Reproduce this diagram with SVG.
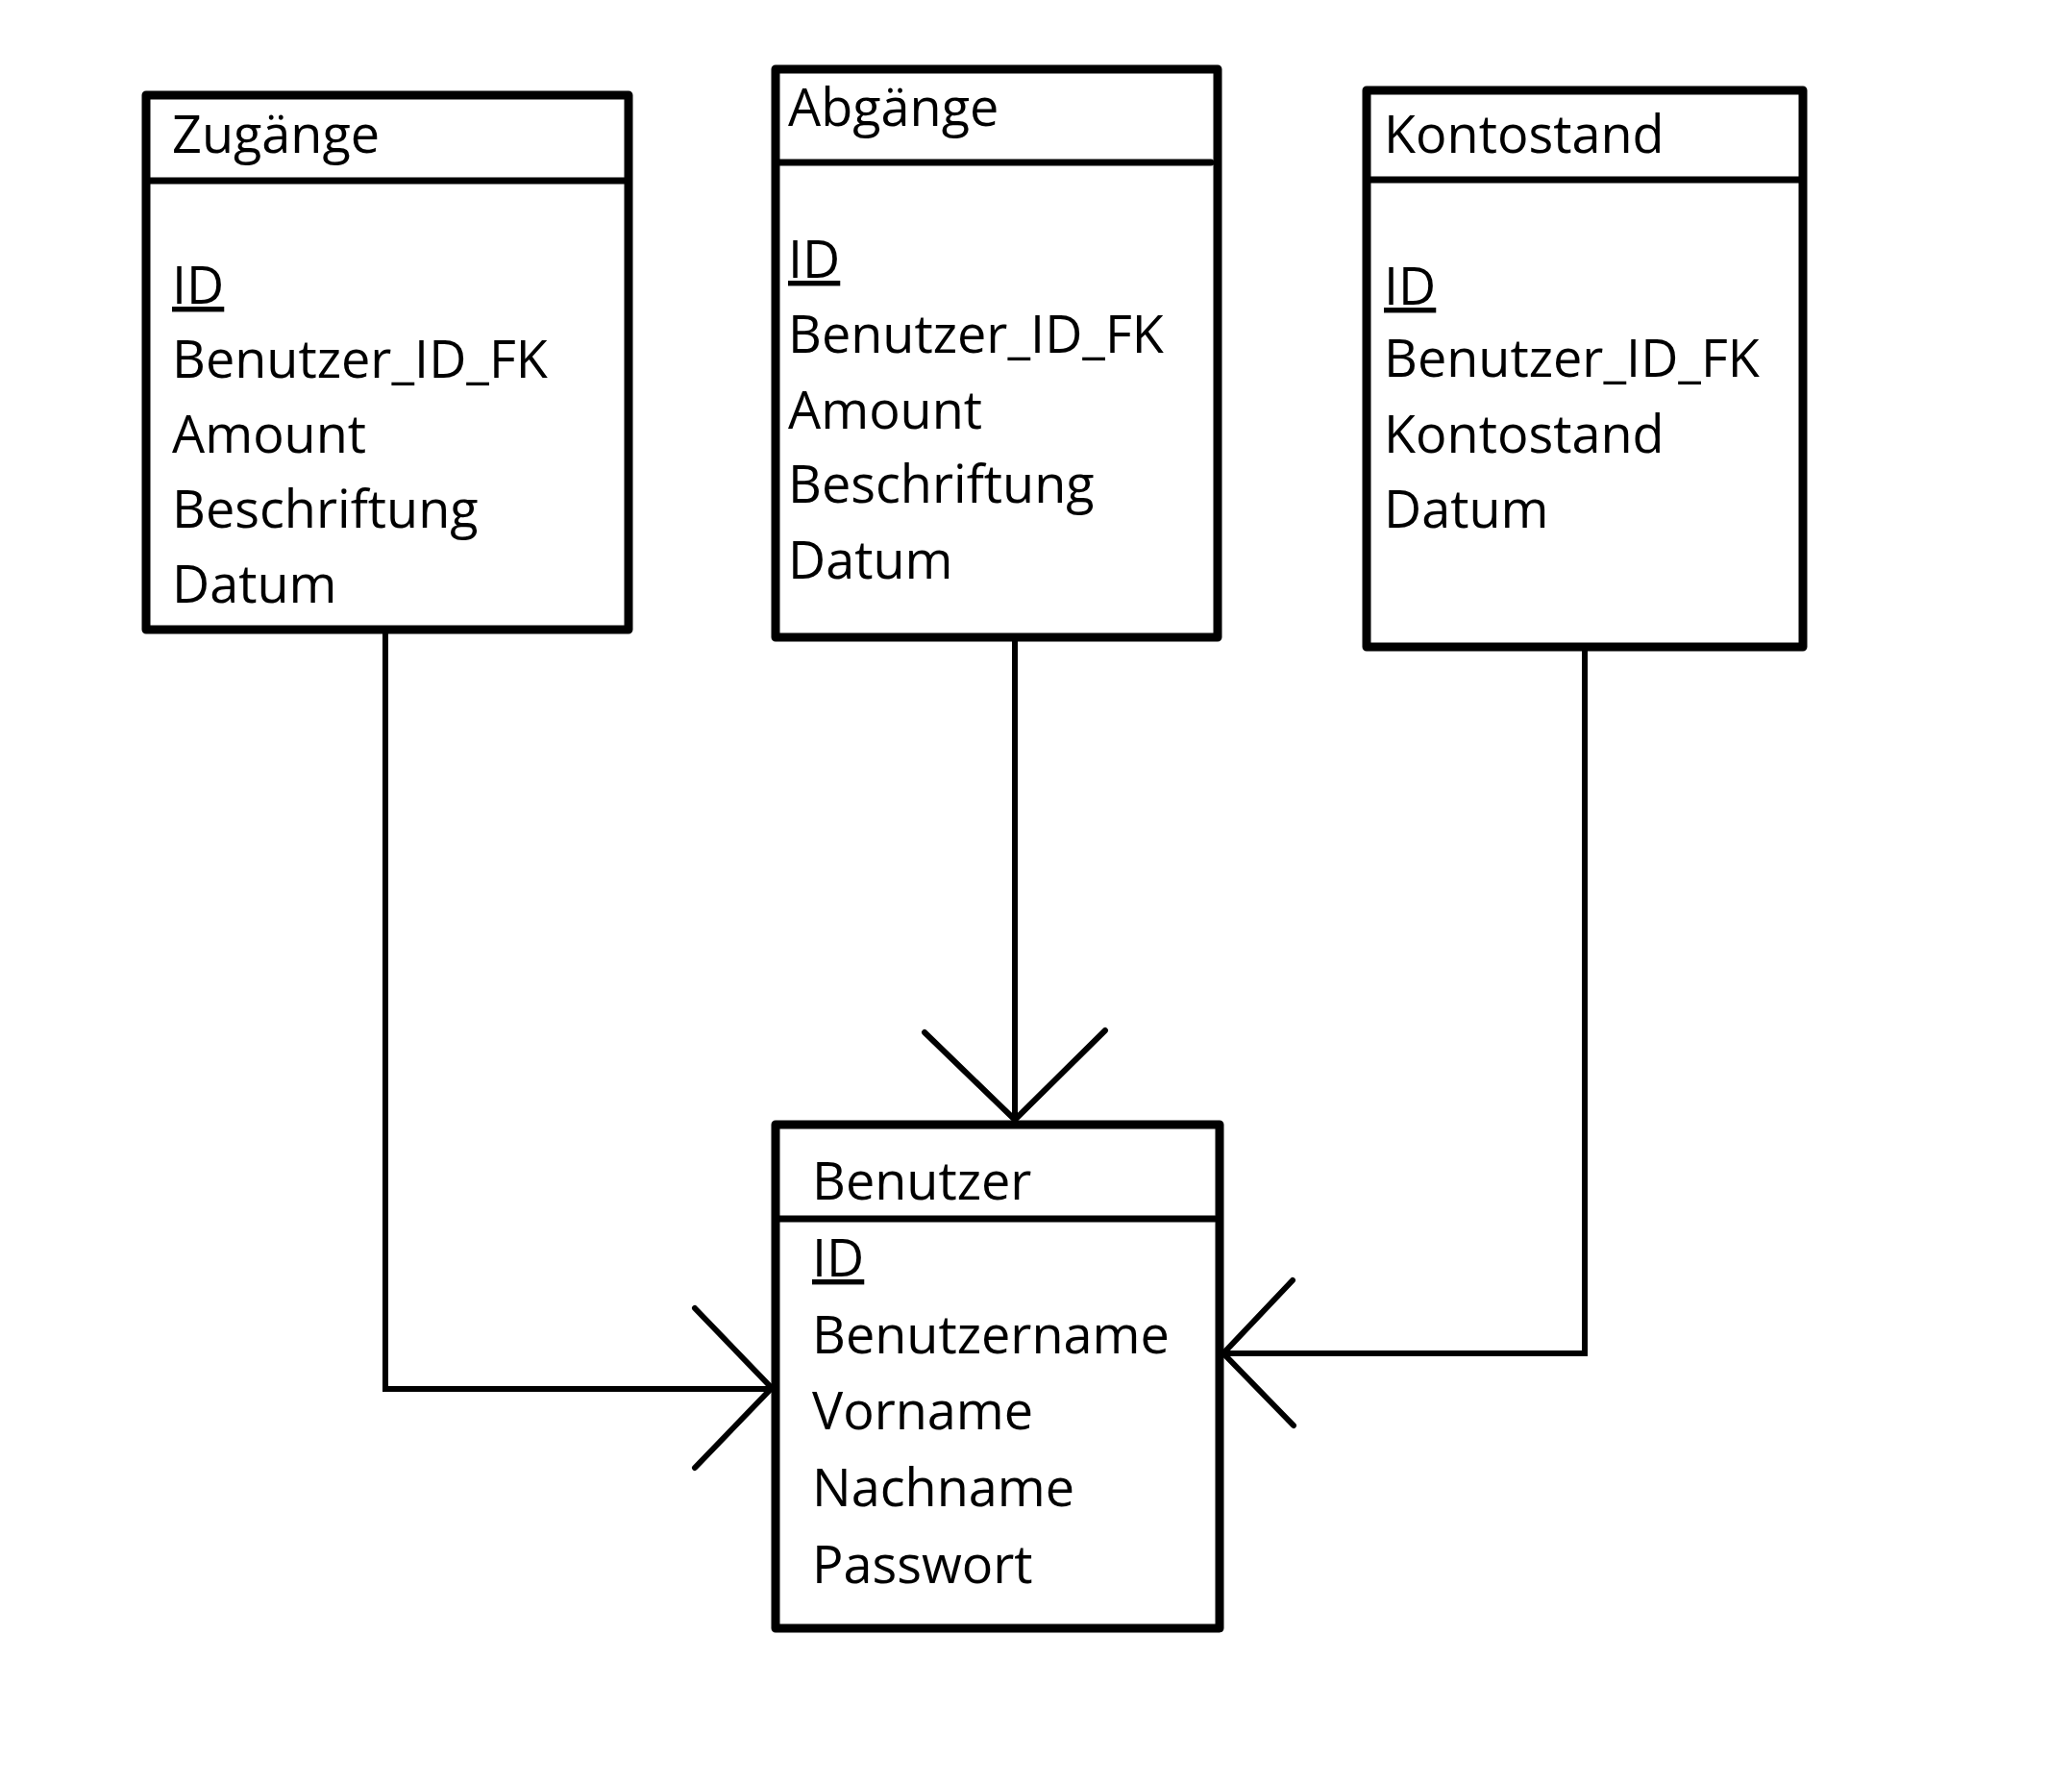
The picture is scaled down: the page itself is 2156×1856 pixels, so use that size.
<svg xmlns="http://www.w3.org/2000/svg" width="2156" height="1856" viewBox="0 0 2156 1856">
<style>
.box{fill:#fff;stroke:#000;stroke-width:9;stroke-linejoin:round}
.hdr{stroke:#000;stroke-width:7;stroke-linecap:round}
.con{fill:none;stroke:#000;stroke-width:6;stroke-linecap:round;stroke-linejoin:miter}
text{font-family:"Open Sans","Noto Sans","DejaVu Sans",sans-serif;font-size:54px;fill:#000}
.pk{text-decoration:underline}
</style>
<rect width="2156" height="1856" fill="#fff"/>
<g id="connectors">
<path class="con" d="M401,655 V1445 H803"/>
<path class="con" d="M723,1361 L803,1444 L723,1527"/>
<path class="con" d="M1056,663 V1166"/>
<path class="con" d="M962,1074 L1056,1165 L1150,1072"/>
<path class="con" d="M1649,673 V1408 H1273"/>
<path class="con" d="M1345,1332 L1273,1408 L1346,1483"/>
</g>
<g id="zugaenge">
<rect class="box" x="152" y="99" width="502" height="556"/>
<line class="hdr" x1="152" y1="188" x2="654" y2="188"/>
<text x="179" y="159">Zugänge</text>
<text x="179" y="316" class="pk">ID</text>
<text x="179" y="393">Benutzer_ID_FK</text>
<text x="179" y="471">Amount</text>
<text x="179" y="549">Beschriftung</text>
<text x="179" y="627">Datum</text>
</g>
<g id="abgaenge">
<rect class="box" x="807" y="72" width="460" height="591"/>
<line class="hdr" x1="810" y1="169" x2="1260" y2="169"/>
<text x="820" y="131">Abgänge</text>
<text x="820" y="289" class="pk">ID</text>
<text x="820" y="367">Benutzer_ID_FK</text>
<text x="820" y="446">Amount</text>
<text x="820" y="523">Beschriftung</text>
<text x="820" y="602">Datum</text>
</g>
<g id="kontostand">
<rect class="box" x="1422" y="94" width="454" height="579"/>
<line class="hdr" x1="1422" y1="187" x2="1876" y2="187"/>
<text x="1440" y="159">Kontostand</text>
<text x="1440" y="317" class="pk">ID</text>
<text x="1440" y="392">Benutzer_ID_FK</text>
<text x="1440" y="471">Kontostand</text>
<text x="1440" y="549">Datum</text>
</g>
<g id="benutzer">
<rect class="box" x="807" y="1170" width="462" height="524"/>
<line class="hdr" x1="810" y1="1268" x2="1264" y2="1268"/>
<text x="845" y="1248">Benutzer</text>
<text x="845" y="1328" class="pk">ID</text>
<text x="845" y="1408">Benutzername</text>
<text x="845" y="1487">Vorname</text>
<text x="845" y="1567">Nachname</text>
<text x="845" y="1647">Passwort</text>
</g>
</svg>
